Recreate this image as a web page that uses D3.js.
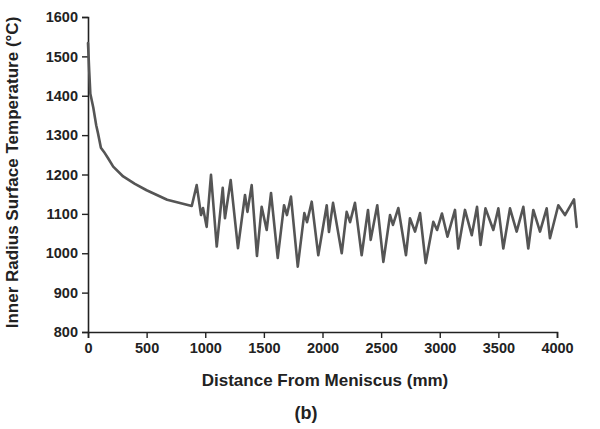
<!DOCTYPE html>
<html>
<head>
<meta charset="utf-8">
<script src="https://cdn.jsdelivr.net/npm/d3@7"></script>
<style>
  html, body { margin: 0; padding: 0; background: #fff; }
  svg { display: block; }
  text { font-family: "Liberation Sans", Arial, Helvetica, sans-serif; font-weight: bold; fill: #222; }
</style>
</head>
<body>
<svg id="chart" width="600" height="429"></svg>
<script>
// Distance from meniscus (mm)
const distance = [
  0, 10, 20, 45, 70, 85, 110, 135, 170, 215, 300, 400, 500, 675, 885,
  927, 964, 981, 1012, 1049, 1098, 1149, 1168, 1217, 1279, 1339, 1360, 1396,
  1441, 1481, 1524, 1561, 1618, 1672, 1697, 1731, 1789, 1845, 1868, 1908,
  1964, 2036, 2055, 2090, 2164, 2206, 2235, 2277, 2334, 2388, 2411, 2467,
  2519, 2576, 2601, 2647, 2712, 2746, 2789, 2832, 2880, 2945, 2977, 3019,
  3066, 3130, 3158, 3215, 3273, 3318, 3348, 3390, 3457, 3500, 3542, 3599,
  3656, 3713, 3755, 3798, 3855, 3912, 3940, 4011, 4068, 4145, 4168
];
// Inner radius surface temperature (°C)
const temperature = [
  1534, 1465, 1405, 1370, 1325, 1305, 1268, 1258, 1242, 1220, 1195, 1176, 1160, 1136, 1120,
  1173, 1097, 1115, 1067, 1199, 1017, 1166, 1089, 1186, 1013, 1148, 1105, 1173,
  993, 1118, 1059, 1153, 988, 1122, 1097, 1144, 966, 1102, 1079, 1131,
  995, 1122, 1054, 1128, 1000, 1105, 1079, 1128, 995, 1110, 1034, 1122,
  978, 1097, 1072, 1115, 995, 1089, 1055, 1102, 975, 1080, 1059, 1101,
  1042, 1110, 1012, 1110, 1046, 1118, 1021, 1114, 1059, 1114, 1012, 1114,
  1055, 1118, 1012, 1110, 1055, 1114, 1038, 1122, 1097, 1137, 1067
];
const xTicks = [0, 500, 1000, 1500, 2000, 2500, 3000, 3500, 4000];
const yTicks = [800, 900, 1000, 1100, 1200, 1300, 1400, 1500, 1600];
const xTitle = "Distance From Meniscus (mm)";
const yTitle = "Inner Radius Surface Temperature (\u00B0C)";
const panelLabel = "(b)";

const data = distance.map((d, i) => ({ x: d, y: temperature[i] }));

const svg = d3.select("#chart");
const plotLeft = 88, plotRight = 557, plotTop = 17, plotBottom = 332;

const x = d3.scaleLinear().domain([0, 4000]).range([plotLeft, plotRight]);
const y = d3.scaleLinear().domain([800, 1600]).range([plotBottom, plotTop]);

// X axis
const xAxis = svg.append("g")
  .attr("transform", `translate(0,${plotBottom})`)
  .call(d3.axisBottom(x).tickValues(xTicks).tickFormat(d3.format("d")).tickSizeOuter(0).tickSize(6).tickPadding(5));
// Y axis
const yAxis = svg.append("g")
  .attr("transform", `translate(${plotLeft},0)`)
  .call(d3.axisLeft(y).tickValues(yTicks).tickFormat(d3.format("d")).tickSizeOuter(0).tickSize(6).tickPadding(4));

[xAxis, yAxis].forEach(g => {
  g.select(".domain").attr("stroke", "#222").attr("stroke-width", 1.6);
  g.selectAll(".tick line").attr("stroke", "#222").attr("stroke-width", 1.4);
  g.selectAll(".tick text")
    .attr("fill", "#222")
    .style("font-size", "14.5px")
    .style("font-weight", "bold")
    .style("font-family", "'Liberation Sans', Arial, sans-serif");
});

// Line
const line = d3.line().x(d => x(d.x)).y(d => y(d.y));
svg.append("path")
  .datum(data)
  .attr("fill", "none")
  .attr("stroke", "#555")
  .attr("stroke-width", 2.6)
  .attr("stroke-linejoin", "round")
  .attr("stroke-linecap", "round")
  .attr("d", line);

// Titles
svg.append("text")
  .attr("x", 325).attr("y", 386)
  .attr("text-anchor", "middle")
  .style("font-size", "17px")
  .text(xTitle);

svg.append("text")
  .attr("transform", `translate(18,${(plotTop + plotBottom) / 2 - 2}) rotate(-90)`)
  .attr("text-anchor", "middle")
  .style("font-size", "17px")
  .text(yTitle);

svg.append("text")
  .attr("x", 306).attr("y", 419)
  .attr("text-anchor", "middle")
  .style("font-size", "18px")
  .text(panelLabel);
</script>
</body>
</html>
